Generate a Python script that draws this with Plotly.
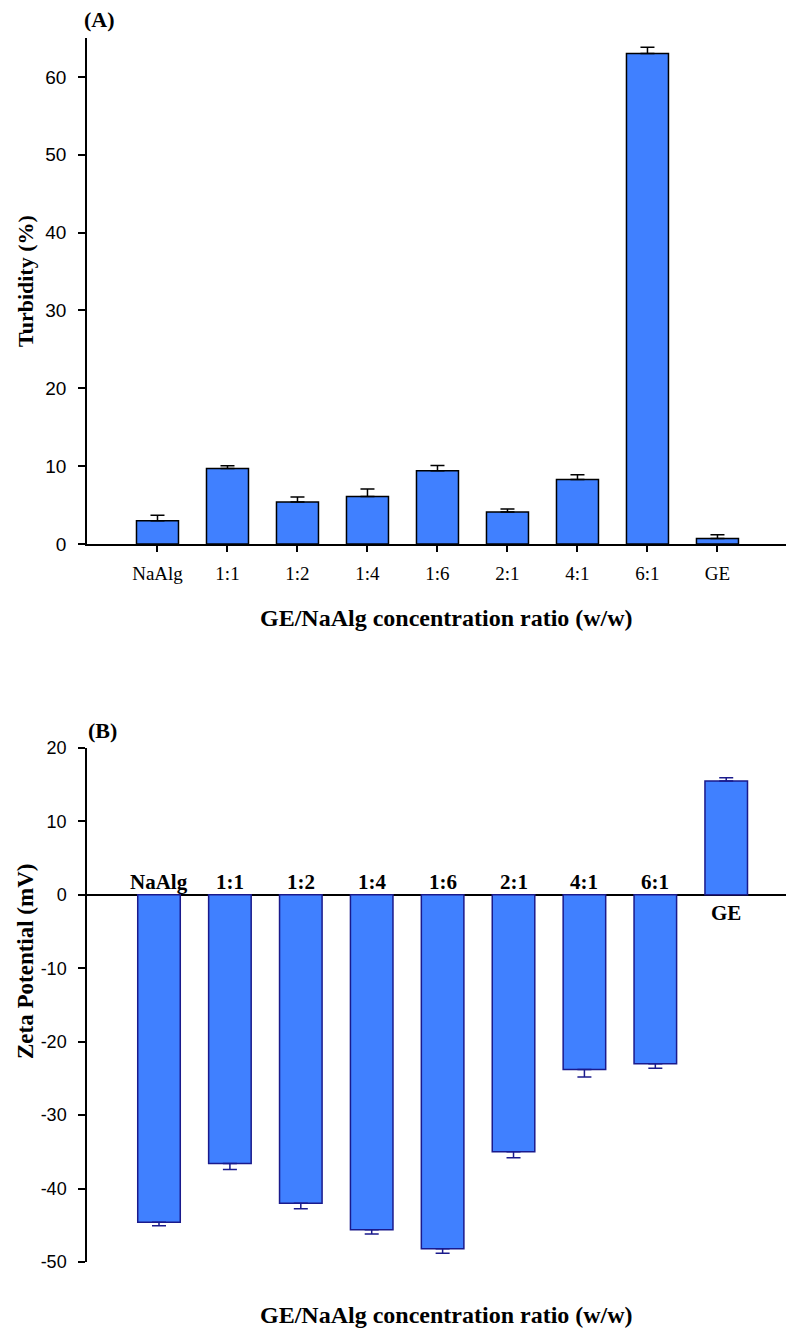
import plotly.graph_objects as go

categories = ["NaAlg", "1:1", "1:2", "1:4", "1:6", "2:1", "4:1", "6:1", "GE"]
turbidity = [3.0, 9.7, 5.4, 6.1, 9.4, 4.1, 8.3, 63.0, 0.7]
turbidity_err = [0.7, 0.35, 0.65, 0.95, 0.7, 0.4, 0.6, 0.8, 0.5]
zeta = [-44.6, -36.6, -42.0, -45.6, -48.2, -35.0, -23.8, -23.0, 15.5]
zeta_err = [0.45, 0.8, 0.75, 0.6, 0.6, 0.8, 1.0, 0.6, 0.45]
y1_ticks = [0, 10, 20, 30, 40, 50, 60]
y2_ticks = [-50, -40, -30, -20, -10, 0, 10, 20]
y2_tick_labels = ["-50", "-40", "-30", "-20", "-10", "0", "10", "20"]

W, H = 786, 1333
BLUE = "#4080FF"
NAVY = "#1A1A8C"
SERIF = "Liberation Serif, Times New Roman, serif"
SANS = "Liberation Sans, Arial, sans-serif"

def py(px):
    return 1 - px / H

fig = go.Figure()

fig.add_trace(go.Bar(
    x=categories, y=turbidity, width=0.6,
    marker=dict(color=BLUE, line=dict(color="black", width=1.5)),
    error_y=dict(type="data", symmetric=False, array=turbidity_err,
                 arrayminus=[0] * len(turbidity_err),
                 color="black", thickness=1.5, width=7),
    xaxis="x", yaxis="y", showlegend=False,
))

zeta_plus = [e if v > 0 else 0 for v, e in zip(zeta, zeta_err)]
zeta_minus = [e if v < 0 else 0 for v, e in zip(zeta, zeta_err)]
fig.add_trace(go.Bar(
    x=categories, y=zeta, width=0.6,
    marker=dict(color=BLUE, line=dict(color=NAVY, width=1.5)),
    error_y=dict(type="data", symmetric=False, array=zeta_plus,
                 arrayminus=zeta_minus,
                 color=NAVY, thickness=1.5, width=7),
    xaxis="x2", yaxis="y2", showlegend=False,
))

# bar labels in panel B
for c, v in zip(categories, zeta):
    fig.add_annotation(
        x=c, y=0, xref="x2", yref="y2", text="<b>%s</b>" % c, showarrow=False,
        yanchor="bottom" if v < 0 else "top",
        yshift=-1 if v < 0 else -4,
        font=dict(family=SERIF, size=21, color="black"),
    )

fig.update_layout(
    width=W, height=H,
    margin=dict(l=0, r=0, t=0, b=0, autoexpand=False),
    paper_bgcolor="white", plot_bgcolor="white",
    bargap=0.4,
    xaxis=dict(
        domain=[87 / W, 1], anchor="y", automargin=False,
        range=[-1.007, 8.979],
        showline=True, linecolor="black", linewidth=1.5,
        ticks="outside", ticklen=6, tickwidth=1.5, tickcolor="black",
        tickfont=dict(family=SERIF, size=19, color="black"),
        ticklabelstandoff=5,
        showgrid=False, zeroline=False,
    ),
    yaxis=dict(
        domain=[py(544), py(38)], anchor="x", automargin=False,
        range=[0, 65], tickvals=y1_ticks,
        showline=True, linecolor="black", linewidth=1.5,
        ticks="outside", ticklen=7, tickwidth=1.5, tickcolor="black",
        tickfont=dict(family=SANS, size=19, color="black"),
        ticklabelstandoff=8,
        showgrid=False, zeroline=False,
    ),
    xaxis2=dict(
        domain=[87 / W, 1], anchor="y2", automargin=False,
        range=[-1.0155, 8.843],
        showline=False, showticklabels=False, ticks="",
        showgrid=False, zeroline=False,
    ),
    yaxis2=dict(
        domain=[py(1262), py(748)], anchor="x2", automargin=False,
        range=[-50, 20], tickvals=y2_ticks, ticktext=y2_tick_labels,
        showline=True, linecolor="black", linewidth=1.5,
        ticks="outside", ticklen=7, tickwidth=1.5, tickcolor="black",
        tickfont=dict(family=SANS, size=18, color="black"),
        ticklabelstandoff=8,
        showgrid=False, zeroline=True, zerolinecolor="black", zerolinewidth=1.5,
    ),
)

title_font = dict(family=SERIF, size=24, color="black")
fig.add_annotation(x=446 / W, y=py(618), xref="paper", yref="paper",
                   text="<b>GE/NaAlg concentration ratio (w/w)</b>", showarrow=False,
                   font=title_font, xanchor="center", yanchor="middle")
fig.add_annotation(x=446 / W, y=py(1315), xref="paper", yref="paper",
                   text="<b>GE/NaAlg concentration ratio (w/w)</b>", showarrow=False,
                   font=title_font, xanchor="center", yanchor="middle")
fig.add_annotation(x=25 / W, y=py(281), xref="paper", yref="paper",
                   text="<b>Turbidity (%)</b>", showarrow=False, textangle=-90,
                   font=dict(family=SERIF, size=22, color="black"),
                   xanchor="center", yanchor="middle")
fig.add_annotation(x=25 / W, y=py(962), xref="paper", yref="paper",
                   text="<b>Zeta Potential (mV)</b>", showarrow=False, textangle=-90,
                   font=dict(family=SERIF, size=23, color="black"),
                   xanchor="center", yanchor="middle")
fig.add_annotation(x=82 / W, y=py(20), xref="paper", yref="paper",
                   text="<b>(A)</b>", showarrow=False,
                   font=dict(family=SERIF, size=22, color="black"),
                   xanchor="left", yanchor="middle")
fig.add_annotation(x=86 / W, y=py(731), xref="paper", yref="paper",
                   text="<b>(B)</b>", showarrow=False,
                   font=dict(family=SERIF, size=22, color="black"),
                   xanchor="left", yanchor="middle")

fig.write_html("out.html")
